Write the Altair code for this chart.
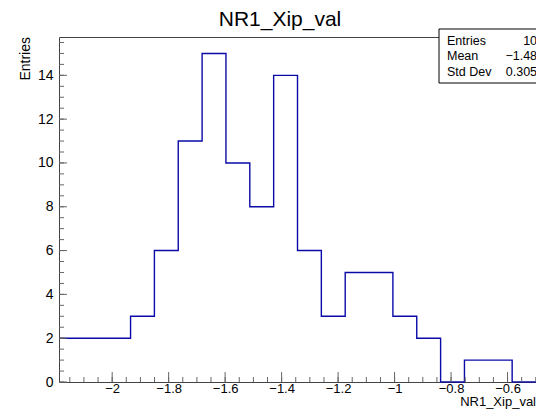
import altair as alt
import pandas as pd
import numpy as np

# ---- data ----
counts = [2, 2, 2, 3, 6, 11, 15, 10, 8, 14, 6, 3, 5, 5, 3, 2, 0, 1, 1, 0]
x_min = -2.1883
x_max = -0.4992
x_major = [-2.0, -1.8, -1.6, -1.4, -1.2, -1.0, -0.8, -0.6]
x_minor = [round(-2.15 + 0.05 * i, 2) for i in range(34)]
y_major = [0, 2, 4, 6, 8, 10, 12, 14]
y_minor = [0.5 * i for i in range(32)]
y_max = 15.75
stat_names = ["Entries", "Mean", "Std Dev"]
stat_values = ["100", "\u22121.488", "0.3054"]
title_text = "NR1_Xip_val"
x_title = "NR1_Xip_val"
y_title = "Entries"

W, H = 477, 345
FONT = "Liberation Sans"
LINE = "#0a0aa8"

nb = len(counts)
bw = (x_max - x_min) / nb
edges = [x_min + i * bw for i in range(nb + 1)]
hist = pd.DataFrame({"x": edges, "n": counts + [counts[-1]]})

xs = alt.Scale(domain=[x_min, x_max], nice=False, zero=False)
ys = alt.Scale(domain=[0, y_max], nice=False, zero=True)

x_axis = alt.Axis(values=x_major, format=".1~f", ticks=False, domain=False, grid=False,
                  labelFontSize=13, labelFont=FONT, labelColor="black", labelPadding=0,
                  labelOverlap=False, labelBound=False, title=None)
y_axis = alt.Axis(values=y_major, format="d", ticks=False, domain=False, grid=False,
                  labelFontSize=14, labelFont=FONT, labelColor="black", labelPadding=6,
                  title=None)

base_hist = alt.Chart(hist).mark_line(interpolate="step-after", color=LINE, strokeWidth=1.4).encode(
    x=alt.X("x:Q", scale=xs, axis=x_axis),
    y=alt.Y("n:Q", scale=ys, axis=y_axis),
)

TICK = "#666666"
xmaj = alt.Chart(pd.DataFrame({"x": x_major})).mark_rule(color=TICK, strokeWidth=1).encode(
    x=alt.X("x:Q", scale=xs), y=alt.value(H), y2=alt.value(H - 10))
xmin_t = alt.Chart(pd.DataFrame({"x": x_minor})).mark_rule(color=TICK, strokeWidth=1).encode(
    x=alt.X("x:Q", scale=xs), y=alt.value(H), y2=alt.value(H - 5))
ymaj = alt.Chart(pd.DataFrame({"y": y_major})).mark_rule(color=TICK, strokeWidth=1).encode(
    y=alt.Y("y:Q", scale=ys), x=alt.value(0), x2=alt.value(8))
ymin_t = alt.Chart(pd.DataFrame({"y": y_minor})).mark_rule(color=TICK, strokeWidth=1).encode(
    y=alt.Y("y:Q", scale=ys), x=alt.value(0), x2=alt.value(5))

one = pd.DataFrame({"a": [0]})
title = alt.Chart(one).mark_text(text=title_text, fontSize=21, font=FONT, color="black",
                                 align="center", baseline="alphabetic").encode(
    x=alt.value(221), y=alt.value(-11))
xt = alt.Chart(one).mark_text(text=x_title, fontSize=13, font=FONT, color="black",
                              align="right", baseline="alphabetic").encode(
    x=alt.value(W), y=alt.value(369))
yt = alt.Chart(one).mark_text(text=y_title, fontSize=14, font=FONT, color="black",
                              align="right", baseline="middle", angle=270).encode(
    x=alt.value(-33), y=alt.value(0))

box = alt.Chart(one).mark_rect(fill="white", stroke="black", strokeWidth=1).encode(
    x=alt.value(380), x2=alt.value(520), y=alt.value(-8), y2=alt.value(46))

stat_layers = []
for i, (nm, vl) in enumerate(zip(stat_names, stat_values)):
    yb = 7.5 + 15.8 * i
    stat_layers.append(alt.Chart(one).mark_text(text=nm, fontSize=12.5, font=FONT, color="black",
                                                align="left", baseline="alphabetic").encode(
        x=alt.value(388), y=alt.value(yb)))
    stat_layers.append(alt.Chart(one).mark_text(text=vl, fontSize=12.5, font=FONT, color="black",
                                                align="right", baseline="alphabetic").encode(
        x=alt.value(485), y=alt.value(yb)))

chart = alt.layer(base_hist, xmaj, xmin_t, ymaj, ymin_t, title, xt, yt, box, *stat_layers).properties(
    width=W, height=H,
    autosize=alt.AutoSizeParams(type="none"),
    padding={"left": 51, "top": 29, "right": 0, "bottom": 28},
    background="white",
).configure_view(stroke="#444444", strokeWidth=1)

chart.save("out.html", embed_options={"renderer": "svg", "actions": False})
